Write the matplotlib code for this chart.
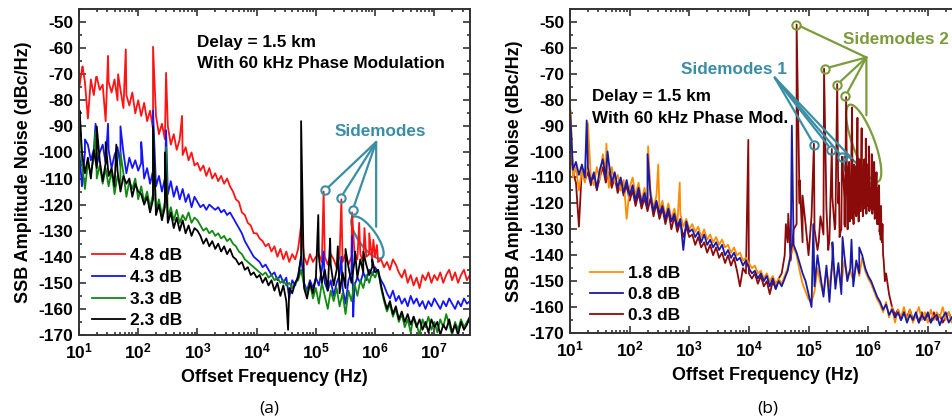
import numpy as np
import matplotlib
matplotlib.use('Agg')
import matplotlib.pyplot as plt
from matplotlib.patches import Ellipse
from matplotlib.ticker import LogLocator, NullFormatter
import matplotlib.transforms as mtransforms

plt.rcParams['font.family'] = 'Liberation Sans'
plt.rcParams['font.weight'] = 'bold'
plt.rcParams['axes.labelweight'] = 'bold'
plt.rcParams['axes.unicode_minus'] = False
plt.rcParams['mathtext.fontset'] = 'custom'
plt.rcParams['mathtext.rm'] = 'Liberation Sans:bold'
plt.rcParams['mathtext.bf'] = 'Liberation Sans:bold'
plt.rcParams['mathtext.it'] = 'Liberation Sans:bold'

# frequency bins, log10(Hz), 0.05 decade apart
logf = np.round(np.arange(1.0, 7.6001, 0.05), 2)

ytick_vals = [-170, -160, -150, -140, -130, -120, -110, -100, -90, -80, -70, -60, -50]
xtick_vals = [1e1, 1e2, 1e3, 1e4, 1e5, 1e6, 1e7]
xtick_labels = ['$10^{1}$', '$10^{2}$', '$10^{3}$', '$10^{4}$', '$10^{5}$', '$10^{6}$', '$10^{7}$']

# ---- panel (a) ----
labels_a = ['4.8 dB', '4.3 dB', '3.3 dB', '2.3 dB']
colors_a = ['#ff1414', '#1414ff', '#128a12', '#000000']

red_a = [-76, -68, -73, -87, -72, -78, -71, -76, -74, -88, -73, -77, -72, -80, -76, -83, -78, -82, -77, -85,
         -80, -86, -81, -88, -84, -91, -86, -93, -89, -95, -90, -97, -93, -99, -95, -101, -98, -103, -100, -105,
         -104, -107, -105, -109, -106, -110, -108, -111, -109, -112, -110, -113, -115, -118, -119, -123, -124, -127, -128, -131,
         -131, -133, -134, -136, -135, -138, -136, -140, -137, -141, -138, -142, -139, -141, -137, -128, -140, -143, -139, -142,
         -140, -139, -142, -140, -143, -139, -141, -144, -140, -142, -139, -143, -140, -138, -141, -139, -142, -140, -139, -141,
         -140, -142, -141, -144, -142, -145, -141, -143, -146, -148, -145, -150, -147, -151, -148, -152, -147, -149, -146, -150,
         -147, -149, -146, -150, -147, -145, -149, -146, -150, -147, -145, -149, -147]
red_a_spk_f = [1.06, 1.29, 1.49, 1.66, 1.79, 2.25, 2.47, 2.74, 5.13, 5.43, 5.61, 5.73, 5.82, 5.90, 5.97, 6.03]
red_a_spk_db = [-67, -71, -63, -70, -60.5, -59.5, -69.5, -86, -115, -118, -123, -127, -129, -131, -133.5, -135.5]

blue_a = [-98, -113, -100, -97, -103, -99, -105, -100, -97, -104, -99, -106, -101, -98, -105, -100, -108, -102, -106, -103,
          -107, -104, -110, -106, -112, -107, -113, -109, -115, -110, -116, -111, -117, -113, -118, -114, -119, -116, -121, -117,
          -119, -121, -120, -122, -120, -121, -122, -121, -123, -122, -124, -123, -125, -127, -129, -131, -134, -136, -138, -140,
          -141, -142, -144, -143, -145, -147, -146, -149, -147, -150, -148, -156, -149, -151, -147, -140, -150, -153, -149, -152,
          -148, -151, -145, -150, -153, -149, -155, -150, -147, -152, -158, -149, -146, -151, -148, -150, -146, -149, -145, -147,
          -144, -146, -149, -151, -154, -156, -153, -157, -155, -158, -156, -159, -155, -158, -156, -159, -157, -160, -157, -159,
          -156, -158, -160, -157, -159, -156, -158, -160, -157, -159, -156, -158, -157]
blue_a_spk_f = [1.10, 1.28, 1.49, 1.70, 2.05, 2.25, 2.47, 5.13, 5.43, 5.61, 5.63]
blue_a_spk_db = [-95, -89, -89, -90, -96, -84, -91.5, -138, -140, -132, -163]

green_a = [-85, -104, -114, -104, -108, -102, -110, -105, -112, -106, -113, -107, -116, -109, -113, -108, -117, -111, -114, -110,
           -118, -113, -119, -115, -121, -116, -122, -118, -124, -119, -125, -121, -126, -122, -127, -124, -126, -123, -127, -125,
           -126, -128, -130, -129, -131, -130, -132, -131, -133, -132, -134, -133, -135, -136, -138, -139, -141, -142, -143, -144,
           -145, -146, -147, -146, -148, -147, -149, -148, -150, -149, -151, -150, -152, -150, -149, -145, -151, -154, -150, -156,
           -152, -158, -150, -155, -160, -153, -157, -152, -159, -154, -162, -153, -157, -150, -155, -149, -152, -147, -150, -146,
           -148, -145, -152, -157, -161, -158, -163, -160, -165, -162, -167, -164, -169, -163, -166, -170, -164, -167, -163, -168,
           -165, -169, -164, -167, -162, -166, -170, -165, -168, -164, -167, -165, -163]
green_a_spk_f = [1.01, 1.28, 1.70, 2.25, 2.47]
green_a_spk_db = [-84, -92, -100, -92, -98]

black_a = [-86, -100, -108, -102, -110, -99, -106, -103, -111, -104, -109, -106, -113, -107, -115, -109, -112, -110, -117, -112,
           -115, -116, -120, -117, -123, -118, -124, -120, -126, -121, -127, -123, -129, -125, -130, -126, -131, -128, -132, -129,
           -130, -132, -135, -133, -136, -134, -137, -135, -138, -136, -139, -137, -140, -141, -143, -142, -145, -144, -147, -146,
           -148, -147, -150, -148, -151, -149, -153, -150, -155, -151, -157, -152, -154, -150, -148, -140, -152, -156, -150, -154,
           -148, -140, -150, -145, -153, -143, -151, -145, -154, -146, -152, -144, -150, -142, -148, -141, -146, -143, -147, -144,
           -146, -145, -151, -156, -160, -157, -162, -159, -164, -161, -165, -162, -166, -163, -167, -164, -168, -165, -169, -164,
           -167, -165, -170, -166, -168, -164, -169, -166, -170, -165, -168, -166, -163]
black_a_spk_f = [1.01, 1.30, 1.45, 1.63, 2.25, 2.45, 4.53, 4.75, 5.04, 5.24, 5.37, 5.50, 5.66, 5.80, 5.95]
black_a_spk_db = [-84, -90, -96, -97, -90, -100, -168, -88, -124, -133, -136, -137, -138, -138, -141]

# ---- panel (b) ----
labels_b = ['1.8 dB', '0.8 dB', '0.3 dB']
colors_b = ['#ff8c00', '#1a1aa6', '#8b0a0a']

orange_b = [-98, -110, -106, -115, -107, -112, -104, -110, -113, -106, -111, -101, -108, -114, -106, -112, -109, -115, -111, -126,
            -114, -110, -117, -112, -119, -114, -120, -115, -122, -117, -123, -119, -125, -120, -126, -122, -128, -124, -129, -126,
            -130, -128, -131, -129, -133, -130, -134, -132, -135, -133, -136, -134, -137, -136, -139, -137, -140, -139, -142, -141,
            -143, -145, -144, -147, -146, -149, -147, -150, -148, -151, -149, -151, -148, -145, -140, -137, -140, -146, -151, -154,
            -157, -158, -154, -145, -151, -155, -146, -152, -143, -150, -145, -152, -142, -148, -146, -150, -143, -148, -141, -146,
            -149, -151, -154, -157, -159, -162, -158, -164, -160, -166, -161, -164, -160, -165, -161, -166, -163, -160, -165, -162,
            -166, -161, -165, -162, -164, -160, -165, -162, -166, -161, -164, -162, -163]
orange_b_spk_f = [1.01, 1.30, 1.61, 2.31, 2.48, 2.84]
orange_b_spk_db = [-84, -89, -97, -98, -105, -112]

blue_b = [-100, -107, -104, -109, -105, -110, -106, -112, -108, -114, -107, -103, -110, -104, -112, -108, -114, -110, -116, -111,
          -117, -113, -119, -114, -120, -116, -121, -117, -123, -119, -124, -121, -126, -122, -127, -124, -129, -126, -138, -127,
          -131, -130, -133, -131, -135, -132, -136, -134, -137, -135, -138, -136, -140, -138, -141, -139, -142, -141, -144, -142,
          -145, -147, -146, -149, -147, -150, -148, -152, -149, -153, -150, -152, -149, -146, -140, -136, -139, -143, -147, -150,
          -155, -160, -152, -140, -148, -156, -144, -158, -141, -153, -143, -155, -140, -150, -145, -152, -142, -147, -140, -145,
          -148, -150, -153, -156, -158, -161, -159, -163, -161, -164, -162, -165, -162, -166, -163, -165, -162, -166, -163, -165,
          -162, -166, -164, -163, -167, -164, -162, -166, -164, -163, -166, -164, -165]
blue_b_spk_f = [1.00, 1.28, 1.63, 2.30, 4.72, 5.08, 5.40, 5.57, 5.72, 5.85]
blue_b_spk_db = [-83, -88, -100, -101, -90, -128, -135, -133, -134, -137]

dred_b = [-95, -108, -112, -129, -106, -111, -108, -113, -109, -115, -110, -106, -112, -108, -114, -110, -116, -112, -117, -113,
          -119, -115, -121, -116, -122, -118, -123, -118, -125, -120, -126, -122, -128, -123, -130, -125, -131, -127, -133, -129,
          -133, -132, -136, -133, -137, -135, -139, -136, -140, -137, -141, -139, -143, -140, -144, -141, -146, -152, -145, -147,
          -147, -149, -147, -151, -148, -152, -150, -155, -150, -153, -149, -147, -140, -135, -142, -130, -128, -120, -135, -128,
          -140, -125, -130, -138, -125, -132, -122, -134, -118, -128, -120, -130, -118, -126, -115, -124, -116, -122, -114, -120,
          -117, -122, -119, -126, -132, -140, -147, -155, -160, -163, -161, -165, -162, -164, -161, -165, -163, -166, -162, -165,
          -163, -166, -162, -165, -163, -166, -164, -162, -165, -163, -166, -164, -165]
dred_b_spk_f = [3.99, 4.62, 4.66, 4.80, 4.85, 4.90, 5.09, 5.26, 5.39, 5.48, 5.56, 5.63, 5.68, 5.73, 5.78, 5.82,
                5.86, 5.89, 5.93, 5.96, 5.98, 6.01, 6.03, 6.06, 6.08, 6.10, 6.12, 6.14, 6.16, 6.18, 6.20, 6.22]
dred_b_spk_db = [-95.5, -128, -124, -51, -111, -117, -97, -68, -99, -74, -102, -79, -104, -83, -106, -87,
                 -108, -91, -110, -95, -112, -98, -114, -101, -116, -104, -118, -108, -121, -113, -124, -128]
dred_b_val_f = [5.17, 5.33, 5.44, 5.52, 5.60, 5.655, 5.705, 5.755, 5.80, 5.84, 5.875, 5.91, 5.945,
                5.97, 5.995, 6.02, 6.045, 6.07, 6.09, 6.11, 6.13, 6.15, 6.17, 6.19, 6.21]
dred_b_val_db = [-135, -138, -130, -133, -128, -130, -126, -128, -125, -127, -123, -125, -122,
                 -124, -121, -123, -120, -124, -122, -126, -124, -128, -127, -131, -134]
# finer comb between the sidemodes
dred_b_comb_f = [5.51, 5.535, 5.585, 5.61, 5.665, 5.69, 5.715, 5.74, 5.765, 5.79, 5.81, 5.83, 5.85, 5.865,
                 5.88, 5.92, 5.935, 5.955, 5.99, 6.005, 6.015, 6.035, 6.055, 6.065, 6.085, 6.095, 6.105,
                 6.125, 6.135, 6.155, 6.165, 6.175, 6.185, 6.195, 6.215, 6.23, 6.24, 6.26, 6.28]
dred_b_comb_db = [-112, -131, -110, -129, -108, -127, -106, -126, -105, -124, -104, -122, -103, -123,
                  -104, -121, -103, -120, -105, -119, -104, -121, -106, -120, -108, -122, -109,
                  -124, -111, -126, -114, -128, -117, -130, -121, -135, -128, -142, -150]


def series(vals, *extra):
    assert len(vals) == len(logf)
    xs = [logf] + [np.asarray(e, float) for e in extra[0::2]]
    ys = [np.asarray(vals, float)] + [np.asarray(e, float) for e in extra[1::2]]
    x = np.concatenate(xs)
    y = np.concatenate(ys)
    o = np.argsort(x, kind='stable')
    return 10 ** x[o], y[o]


def style(ax, xmax):
    ax.set_xscale('log')
    ax.set_xlim(10, xmax)
    ax.set_ylim(-170, -45)
    ax.set_yticks(ytick_vals, [str(v) for v in ytick_vals])
    ax.set_yticks(np.arange(-165, -44, 10), minor=True)
    ax.set_xticks(xtick_vals, xtick_labels)
    ax.xaxis.set_minor_locator(LogLocator(base=10, subs=np.arange(2, 10), numticks=30))
    ax.xaxis.set_minor_formatter(NullFormatter())
    ax.tick_params(which='both', direction='in', top=True, right=True, labelsize=12.5, width=1.2, color='#333333')
    ax.tick_params(which='major', length=5)
    ax.tick_params(which='minor', length=2.5)
    ax.tick_params(axis='y', pad=4)
    ax.tick_params(axis='x', pad=5)
    for s in ax.spines.values():
        s.set_linewidth(1.4)
        s.set_color('#333333')
    ax.set_xlabel('Offset Frequency (Hz)', fontsize=13, fontweight='bold', labelpad=5)
    ax.set_ylabel('SSB Amplitude Noise (dBc/Hz)', fontsize=13, fontweight='bold', labelpad=5)


def ring(ax, L, db, w, h, ang, color):
    tr = fig.dpi_scale_trans + mtransforms.ScaledTranslation(10 ** L, db, ax.transData)
    ax.add_patch(Ellipse((0, 0), w / 100, h / 100, angle=ang, transform=tr,
                         fill=False, ec=color, lw=1.6, clip_on=False))


def pointer(ax, src, dst, color, shrink=3.5):
    ax.annotate('', xy=(10 ** dst[0], dst[1]), xytext=(10 ** src[0], src[1]),
                arrowprops=dict(arrowstyle='-', color=color, lw=1.6, shrinkA=0, shrinkB=shrink))


def circle(ax, L, db, color):
    ax.plot(10 ** L, db, 'o', ms=6, mfc='none', mec=color, mew=1.5, clip_on=False)


fig = plt.figure(figsize=(9.53, 4.19), dpi=100)
axa = fig.add_axes([0.0829, 0.2005, 0.4103, 0.7780])
axb = fig.add_axes([0.5981, 0.2053, 0.4103, 0.7733])

# panel (a)
curves_a = [(red_a, red_a_spk_f, red_a_spk_db), (blue_a, blue_a_spk_f, blue_a_spk_db),
            (green_a, green_a_spk_f, green_a_spk_db), (black_a, black_a_spk_f, black_a_spk_db)]
for (vals, sf, sd), lab, col in zip(curves_a, labels_a, colors_a):
    x, y = series(vals, sf, sd)
    axa.plot(x, y, color=col, lw=1.3, label=lab)
style(axa, 4.0e7)
axa.legend(loc='lower left', bbox_to_anchor=(0.033, 0.02), frameon=False, fontsize=12.5,
           handlelength=1.9, handletextpad=0.3, labelspacing=0.38, borderpad=0, borderaxespad=0)
axa.text(0.301, 0.896, 'Delay = 1.5 km', transform=axa.transAxes, fontsize=12.3, va='center')
axa.text(0.301, 0.834, 'With 60 kHz Phase Modulation', transform=axa.transAxes, fontsize=12.3, va='center')

teal = '#3a8ea4'
olive = '#7b9c3a'
hub_a = (6.017, -96.0)
axa.text(10 ** 6.085, -92.1, 'Sidemodes', color=teal, fontsize=12.3, ha='center', va='center')
for c in [(5.155, -114.5), (5.42, -117.3), (5.62, -122.1)]:
    circle(axa, c[0], c[1], teal)
    pointer(axa, hub_a, c, teal)
pointer(axa, hub_a, (6.017, -128.5), teal, shrink=0)
ring(axa, 5.87, -132.6, 50, 18, -54.7, teal)

# panel (b)
x, y = series(dred_b, dred_b_spk_f, dred_b_spk_db, dred_b_val_f, dred_b_val_db, dred_b_comb_f, dred_b_comb_db)
l3, = axb.plot(x, y, color=colors_b[2], lw=1.3, label=labels_b[2])
x, y = series(orange_b, orange_b_spk_f, orange_b_spk_db)
l1, = axb.plot(x, y, color=colors_b[0], lw=1.3, label=labels_b[0])
x, y = series(blue_b, blue_b_spk_f, blue_b_spk_db)
l2, = axb.plot(x, y, color=colors_b[1], lw=1.3, label=labels_b[1])
style(axb, 3.6e7)
axb.legend(handles=[l1, l2, l3], loc='lower left', bbox_to_anchor=(0.051, 0.03), frameon=False, fontsize=12.5,
           handlelength=1.9, handletextpad=0.3, labelspacing=0.35, borderpad=0, borderaxespad=0)
axb.text(0.0555, 0.729, 'Delay = 1.5 km', transform=axb.transAxes, fontsize=12.3, va='center')
axb.text(0.0555, 0.663, 'With 60 kHz Phase Mod.', transform=axb.transAxes, fontsize=12.3, va='center')

hub_b1 = (4.434, -71.5)
axb.text(10 ** 3.747, -68.4, 'Sidemodes 1', color=teal, fontsize=12.3, ha='center', va='center')
for c in [(5.092, -97.3), (5.384, -99.3), (5.568, -102.1)]:
    circle(axb, c[0], c[1], teal)
    pointer(axb, hub_b1, c, teal)
pointer(axb, hub_b1, (5.724, -102.6), teal, shrink=0)
ring(axb, 5.841, -110.7, 53, 16, -57.8, teal)

hub_b2 = (5.970, -63.7)
axb.text(10 ** 5.573, -56.7, 'Sidemodes 2', color=olive, fontsize=12.3, ha='left', va='center', clip_on=False)
for c in [(4.797, -51.0), (5.271, -68.0), (5.477, -74.2), (5.618, -78.6)]:
    circle(axb, c[0], c[1], olive)
    pointer(axb, hub_b2, c, olive)
pointer(axb, hub_b2, (5.970, -86.0), olive, shrink=0)
ring(axb, 5.925, -96.8, 82, 22, -69.7, olive)

fig.text(269 / 953, 1 - 408 / 419, '(a)', ha='center', va='center', fontsize=12.5, fontweight='normal', family='Open Sans')
fig.text(768 / 953, 1 - 408 / 419, '(b)', ha='center', va='center', fontsize=12.5, fontweight='normal', family='Open Sans')

fig.savefig('out.png', dpi=100)
